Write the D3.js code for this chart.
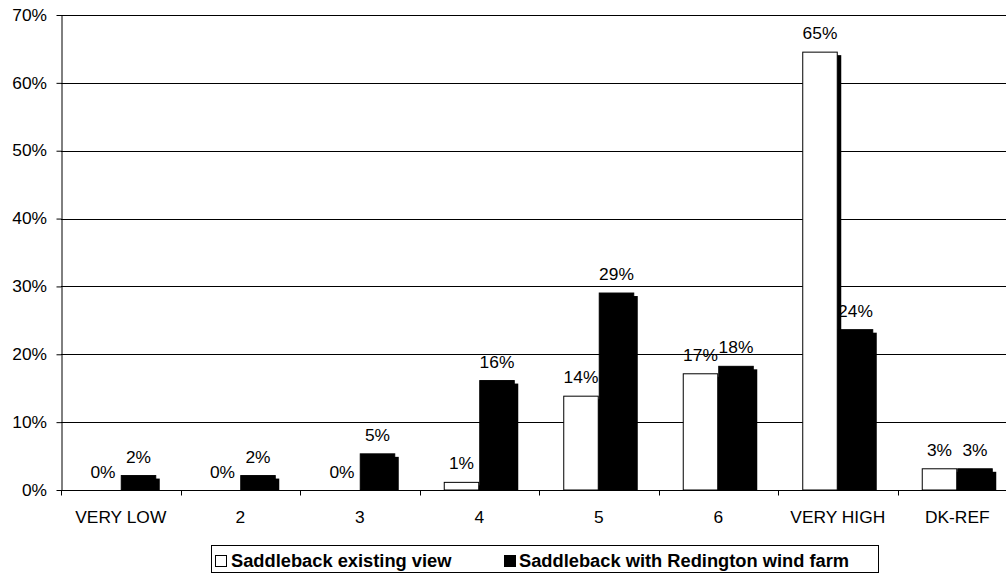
<!DOCTYPE html>
<html>
<head>
<meta charset="utf-8">
<script src="https://cdn.jsdelivr.net/npm/d3@7"></script>
<style>
  html, body { margin: 0; padding: 0; background: #fff; }
  svg { display: block; font-family: "Liberation Sans", Arial, sans-serif; }
</style>
</head>
<body>
<svg id="chart" width="1006" height="574"></svg>
<script>
// Rating categories along the x axis
const categories = ["VERY LOW", "2", "3", "4", "5", "6", "VERY HIGH", "DK-REF"];
// Share of responses per category (percent)
const existingView = [0, 0, 0, 1.2, 13.9, 17.2, 64.6, 3.2];
const withWindFarm = [2.2, 2.2, 5.4, 16.2, 29.1, 18.3, 23.7, 3.2];
const seriesNames = ["Saddleback existing view", "Saddleback with Redington wind farm"];
const yTicks = [0, 10, 20, 30, 40, 50, 60, 70];

const svg = d3.select("#chart");
const W = 1006, H = 574;
const plotLeft = 61, plotTop = 15, plotBottom = 490, plotRight = 1017;
const fontSize = 15.8, stretch = 1.1;

const x = d3.scaleBand().domain(categories).range([plotLeft, plotRight]).paddingInner(0).paddingOuter(0);
const xs = d3.scaleBand().domain([0, 1]).range([0, x.bandwidth()]).paddingInner(0).paddingOuter(0.683);
const y = d3.scaleLinear().domain([0, 70]).range([plotBottom, plotTop]);

const series = [
  { name: seriesNames[0], values: existingView, fill: "#fff" },
  { name: seriesNames[1], values: withWindFarm, fill: "#000" }
];

// Horizontal gridlines
svg.append("g")
  .selectAll("line")
  .data(yTicks.filter(t => t > 0))
  .join("line")
  .attr("x1", plotLeft).attr("x2", W)
  .attr("y1", d => Math.round(y(d)) + 0.5).attr("y2", d => Math.round(y(d)) + 0.5)
  .attr("stroke", "#000").attr("stroke-width", 1);

// Bars with a drop shadow, clipped at the baseline
svg.append("defs").append("clipPath").attr("id", "plotClip")
  .append("rect").attr("x", plotLeft).attr("y", 0).attr("width", W - plotLeft).attr("height", plotBottom);

const barsG = svg.append("g").attr("clip-path", "url(#plotClip)");
series.forEach((s, si) => {
  const data = s.values.map((v, i) => ({ cat: categories[i], v })).filter(d => d.v > 0);
  const g = barsG.append("g");
  g.selectAll("rect.shadow")
    .data(data)
    .join("rect")
    .attr("class", "shadow")
    .attr("x", d => x(d.cat) + xs(si) + 3.5)
    .attr("y", d => y(d.v) + 3.5)
    .attr("width", xs.bandwidth())
    .attr("height", d => plotBottom - y(d.v))
    .attr("fill", "#000");
  g.selectAll("rect.bar")
    .data(data)
    .join("rect")
    .attr("class", "bar")
    .attr("x", d => x(d.cat) + xs(si) + 0.5)
    .attr("y", d => y(d.v) + 0.5)
    .attr("width", xs.bandwidth() - 1)
    .attr("height", d => plotBottom - y(d.v) - 0.5)
    .attr("fill", s.fill)
    .attr("stroke", "#000").attr("stroke-width", 1);
});

// Value labels above each bar
series.forEach((s, si) => {
  svg.append("g")
    .selectAll("text")
    .data(s.values.map((v, i) => ({ cat: categories[i], v })))
    .join("text")
    .attr("transform", d => `translate(${x(d.cat) + xs(si) + xs.bandwidth() / 2},${y(d.v) - 12.5}) scale(${stretch},1)`)
    .attr("text-anchor", "middle")
    .attr("font-size", fontSize)
    .attr("fill", "#000")
    .text(d => Math.round(d.v) + "%");
});

// Y axis
const yAxis = svg.append("g").attr("transform", `translate(${plotLeft + 0.5},0)`)
  .call(d3.axisLeft(y).tickValues(yTicks).tickSize(5).tickSizeOuter(0).tickFormat(() => ""));
yAxis.select(".domain").attr("stroke", "#000");
yAxis.selectAll(".tick line").attr("stroke", "#000");
svg.append("g")
  .selectAll("text")
  .data(yTicks)
  .join("text")
  .attr("transform", d => `translate(47,${y(d) + 5.7}) scale(${stretch},1)`)
  .attr("text-anchor", "end")
  .attr("font-size", fontSize)
  .text(d => d + "%");

// X axis with ticks between categories
const xAxisG = svg.append("g").attr("transform", `translate(0,${plotBottom + 0.5})`);
xAxisG.append("line").attr("x1", plotLeft).attr("x2", W).attr("stroke", "#000");
xAxisG.selectAll("line.tick")
  .data(categories.slice(1))
  .join("line")
  .attr("class", "tick")
  .attr("x1", d => Math.round(x(d)) + 0.5).attr("x2", d => Math.round(x(d)) + 0.5)
  .attr("y1", 0).attr("y2", 5)
  .attr("stroke", "#000");
xAxisG.append("line").attr("x1", plotLeft + 0.5).attr("x2", plotLeft + 0.5).attr("y1", 0).attr("y2", 5).attr("stroke", "#000");
svg.append("g")
  .selectAll("text")
  .data(categories)
  .join("text")
  .attr("transform", d => `translate(${x(d) + x.bandwidth() / 2},522.7) scale(${stretch},1)`)
  .attr("text-anchor", "middle")
  .attr("font-size", fontSize)
  .text(d => d);

// Legend
const legend = svg.append("g");
legend.append("rect")
  .attr("x", 211.5).attr("y", 545.5).attr("width", 667).attr("height", 27)
  .attr("fill", "#fff").attr("stroke", "#000");
const legendItems = [
  { name: seriesNames[0], fill: "#fff", sx: 215, tx: 231 },
  { name: seriesNames[1], fill: "#000", sx: 504, tx: 519 }
];
legendItems.forEach(it => {
  legend.append("rect")
    .attr("x", it.sx + 0.5).attr("y", 555.5).attr("width", 11).attr("height", 11)
    .attr("fill", it.fill).attr("stroke", "#000");
  legend.append("text")
    .attr("x", it.tx).attr("y", 566.7)
    .attr("font-size", 18.3)
    .attr("font-weight", "bold")
    .text(it.name);
});
</script>
</body>
</html>
